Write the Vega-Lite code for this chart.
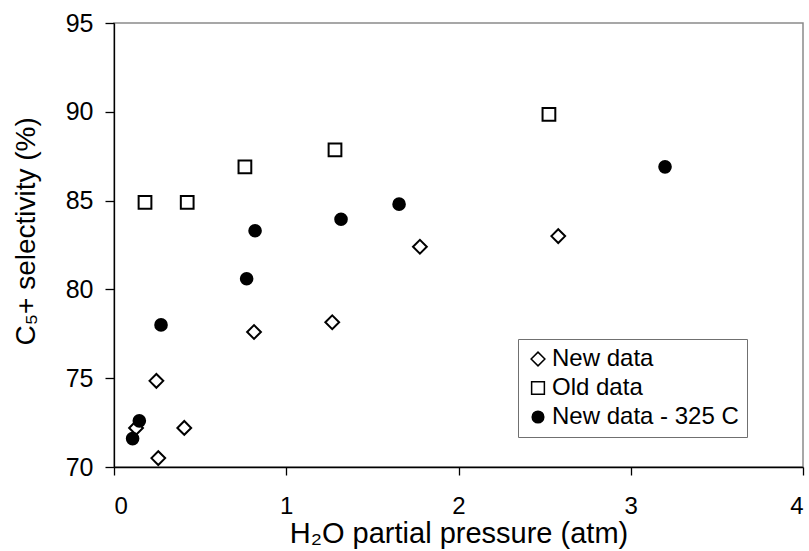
{
  "$schema": "https://vega.github.io/schema/vega-lite/v6.json",
  "width": 689,
  "height": 444,
  "autosize": {"type": "none"},
  "padding": {"left": 114, "top": 23, "right": 6, "bottom": 84},
  "background": "white",
  "config": {
    "font": "Liberation Sans",
    "view": {"stroke": "#8a8a8a", "strokeWidth": 1.5},
    "axis": {
      "grid": false,
      "domainColor": "#000000",
      "domainWidth": 1.3,
      "tickColor": "#000000",
      "tickWidth": 1.3,
      "tickSize": 8,
      "labelColor": "#000000",
      "labelFont": "Liberation Sans",
      "labelFontSize": 25,
      "titleColor": "#000000",
      "titleFont": "Liberation Sans",
      "titleFontWeight": "normal"
    }
  },
  "data": {
    "values": [
      {"series": "New data", "pressure": 0.128, "selectivity": 72.2},
      {"series": "New data", "pressure": 0.246, "selectivity": 74.85},
      {"series": "New data", "pressure": 0.257, "selectivity": 70.5},
      {"series": "New data", "pressure": 0.408, "selectivity": 72.2},
      {"series": "New data", "pressure": 0.813, "selectivity": 77.6},
      {"series": "New data", "pressure": 1.267, "selectivity": 78.15},
      {"series": "New data", "pressure": 1.776, "selectivity": 82.4},
      {"series": "New data", "pressure": 2.579, "selectivity": 83.0},
      {"series": "Old data", "pressure": 0.18, "selectivity": 84.9},
      {"series": "Old data", "pressure": 0.425, "selectivity": 84.9},
      {"series": "Old data", "pressure": 0.76, "selectivity": 86.9},
      {"series": "Old data", "pressure": 1.283, "selectivity": 87.85},
      {"series": "Old data", "pressure": 2.525, "selectivity": 89.85},
      {"series": "New data - 325 C", "pressure": 0.108, "selectivity": 71.6},
      {"series": "New data - 325 C", "pressure": 0.147, "selectivity": 72.6},
      {"series": "New data - 325 C", "pressure": 0.273, "selectivity": 78.0},
      {"series": "New data - 325 C", "pressure": 0.77, "selectivity": 80.6},
      {"series": "New data - 325 C", "pressure": 0.819, "selectivity": 83.3},
      {"series": "New data - 325 C", "pressure": 1.318, "selectivity": 83.95},
      {"series": "New data - 325 C", "pressure": 1.655, "selectivity": 84.8},
      {"series": "New data - 325 C", "pressure": 3.199, "selectivity": 86.9}
    ]
  },
  "mark": {"type": "point", "filled": true, "stroke": "#000000", "strokeWidth": 2, "opacity": 1, "fillOpacity": 1},
  "encoding": {
    "x": {
      "field": "pressure",
      "type": "quantitative",
      "scale": {"domain": [0, 4], "nice": false, "zero": false},
      "axis": {
        "values": [0, 1, 2, 3, 4],
        "title": "H₂O partial pressure (atm)",
        "titleFontSize": 29,
        "titleBaseline": "alphabetic",
        "titleY": 75,
        "labelFontSize": 24,
        "labelPadding": 38,
        "labelBaseline": "alphabetic"
      }
    },
    "y": {
      "field": "selectivity",
      "type": "quantitative",
      "scale": {"domain": [70, 95], "nice": false, "zero": false},
      "axis": {
        "values": [70, 75, 80, 85, 90, 95],
        "title": "C₅+ selectivity (%)",
        "titleFontSize": 28,
        "titleAngle": -90,
        "titleAlign": "left",
        "titleBaseline": "alphabetic",
        "titleX": -80,
        "titleY": 322,
        "tickSize": 9,
        "labelPadding": 12
      }
    },
    "shape": {
      "field": "series",
      "type": "nominal",
      "scale": {"domain": ["New data", "Old data", "New data - 325 C"], "range": ["diamond", "square", "circle"]},
      "legend": {
        "title": null,
        "orient": "none",
        "legendX": 404,
        "legendY": 316,
        "strokeColor": "#707070",
        "fillColor": "#ffffff",
        "padding": 8,
        "labelFont": "Liberation Sans",
        "labelFontSize": 24,
        "labelColor": "#000000",
        "labelLimit": 400,
        "labelOffset": 2,
        "rowPadding": 5,
        "encode": {"symbols": {"stroke": {"value": "#000000"}, "strokeWidth": {"value": 2}}}
      }
    },
    "fill": {
      "field": "series",
      "type": "nominal",
      "scale": {"domain": ["New data", "Old data", "New data - 325 C"], "range": ["#ffffff", "#ffffff", "#000000"]},
      "legend": {
        "title": null,
        "orient": "none",
        "legendX": 404,
        "legendY": 316,
        "strokeColor": "#707070",
        "fillColor": "#ffffff",
        "padding": 8,
        "labelFont": "Liberation Sans",
        "labelFontSize": 24,
        "labelColor": "#000000",
        "labelLimit": 400,
        "labelOffset": 2,
        "rowPadding": 5,
        "encode": {"symbols": {"stroke": {"value": "#000000"}, "strokeWidth": {"value": 2}}}
      }
    },
    "size": {
      "field": "series",
      "type": "nominal",
      "scale": {"domain": ["New data", "Old data", "New data - 325 C"], "range": [190, 135, 160]},
      "legend": {
        "title": null,
        "orient": "none",
        "legendX": 404,
        "legendY": 316,
        "strokeColor": "#707070",
        "fillColor": "#ffffff",
        "padding": 8,
        "labelFont": "Liberation Sans",
        "labelFontSize": 24,
        "labelColor": "#000000",
        "labelLimit": 400,
        "labelOffset": 2,
        "rowPadding": 5,
        "encode": {"symbols": {"stroke": {"value": "#000000"}, "strokeWidth": {"value": 2}}}
      }
    }
  }
}
